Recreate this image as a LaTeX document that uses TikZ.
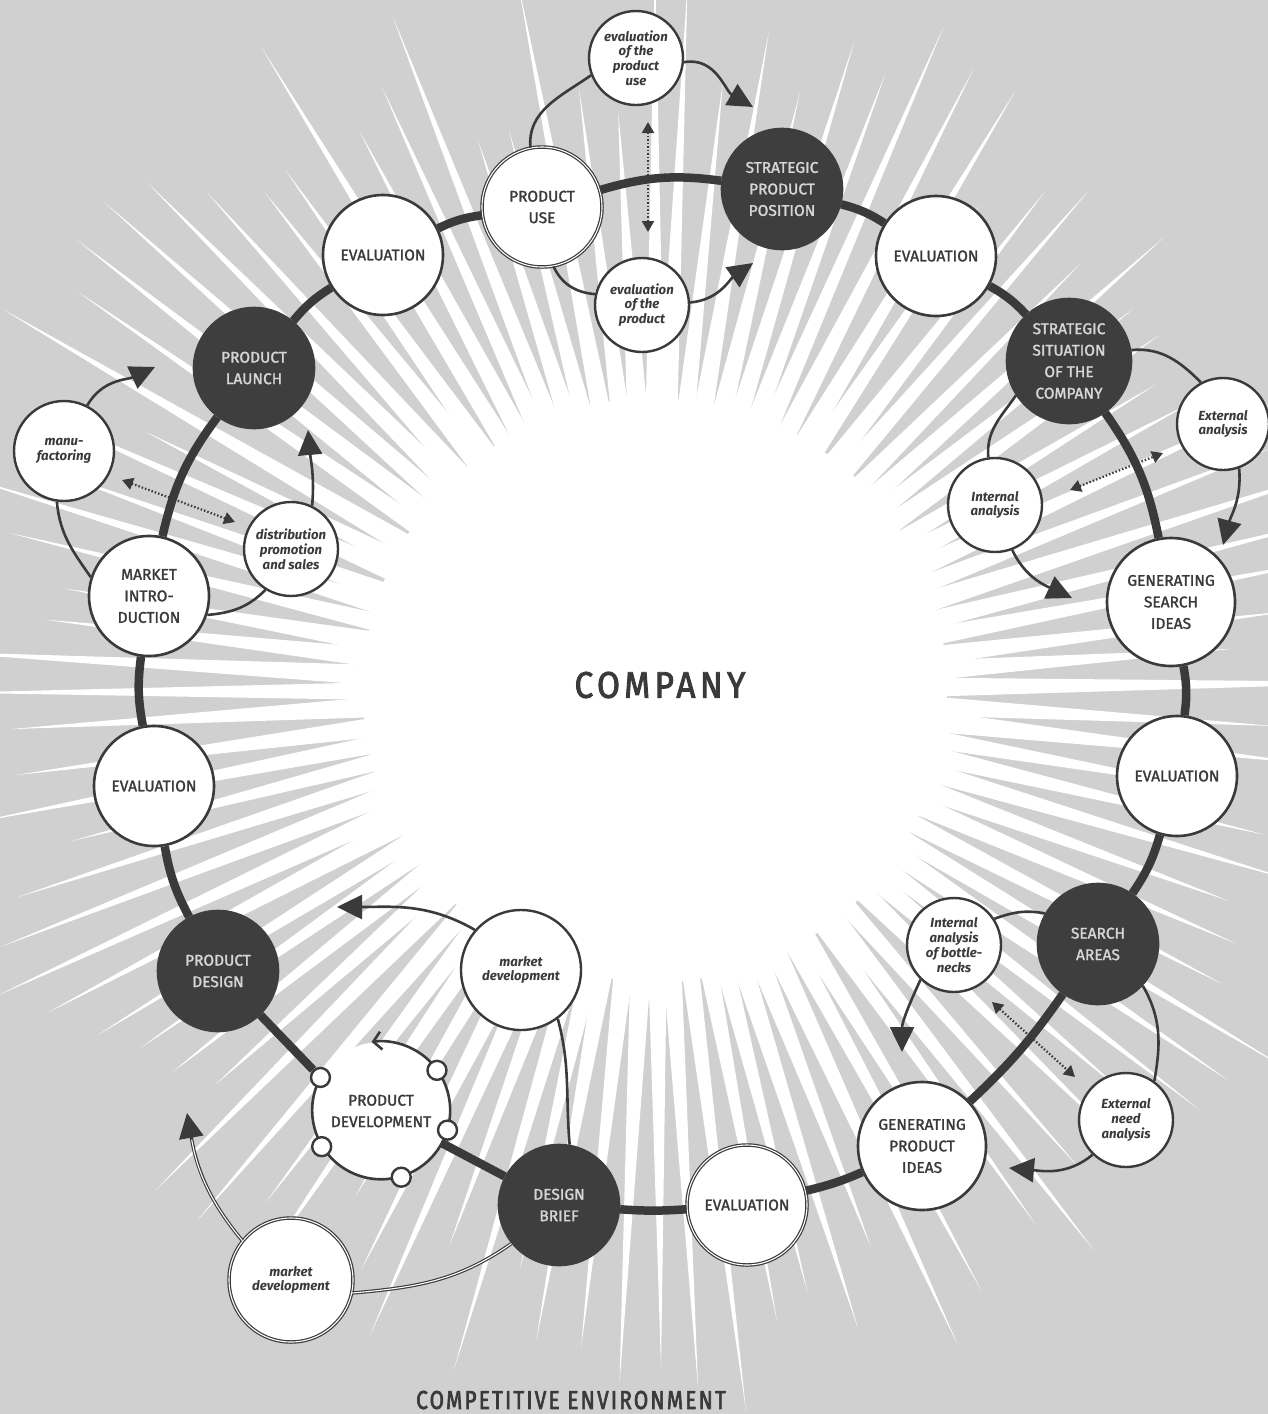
\documentclass[tikz,border=0pt]{standalone}
\usepackage{fontspec}
\setmainfont{Fira Sans}
\newfontfamily\labfont[RawFeature={embolden=1.6}]{Fira Sans}
\newfontfamily\titlefont[RawFeature={embolden=2.4}]{Fira Sans}
\usetikzlibrary{arrows.meta}
\definecolor{bg}{RGB}{208,208,208}
\definecolor{ink}{RGB}{58,58,58}
\definecolor{darknode}{RGB}{62,62,62}
\definecolor{lighttext}{RGB}{214,214,214}
\begin{document}
\begin{tikzpicture}[x=1pt,y=1pt,
  main/.style={circle, draw=ink, line width=2.6pt, fill=white, minimum size=120pt, inner sep=0pt, align=center, text=ink, font=\labfont\fontsize{15.5}{21.5}\selectfont},
  dark/.style={main, fill=darknode, draw=darknode, text=lighttext},
  dblb/.style={double=white, double distance=1.1pt, line width=1.2pt},
  small/.style={circle, draw=ink, line width=2.4pt, fill=white, minimum size=94pt, inner sep=0pt, align=center, text=ink, font=\fontsize{13.2}{14.8}\selectfont\bfseries\itshape},
  tiny/.style={circle, draw=ink, line width=2.4pt, fill=white, minimum size=19pt, inner sep=0pt},
  ring/.style={line width=8.5pt, draw=ink},
  conn/.style={line width=2.6pt, draw=ink},
  big/.style={-{Triangle[length=25pt,width=24pt]}},
  dots/.style={line width=2.2pt, draw=ink, dash pattern=on 1.5pt off 2pt, {Triangle[length=11pt,width=12pt]}-{Triangle[length=11pt,width=12pt]}},
]
% background and starburst
\fill[bg] (0,0) rectangle (1268,-1414);
\useasboundingbox (0,0) rectangle (1268,-1414);
\begin{scope}
\clip (0,0) rectangle (1268,-1414);
\pgfmathsetseed{11}
\begin{scope}[shift={(655,-690)}]
\foreach \i in {0,...,103}{
  \pgfmathsetmacro\a{\i*3.4615+0.9*rnd}
  \pgfmathsetmacro\L{570+190*rnd}
  \pgfmathsetmacro\d{1.75+0.35*rnd}
  \fill[white] (0,0) -- (\a-\d:285) -- (\a:\L) -- (\a+\d:285) -- cycle;
}
\fill[white] (0,0) circle[radius=292];
\end{scope}
\end{scope}

% main ring nodes
\node[main, dblb, draw=ink] (pu) at (542,-207) {PRODUCT\\USE};
\node[dark] (spp) at (782,-189) {STRATEGIC\\PRODUCT\\POSITION};
\node[main] (ev1) at (936,-256) {EVALUATION};
\node[dark, minimum size=124pt] (ssc) at (1069,-361) {STRATEGIC\\SITUATION\\OF THE\\COMPANY};
\node[main, minimum size=128pt] (gsi) at (1171,-602) {GENERATING\\SEARCH\\IDEAS};
\node[main] (ev2) at (1177,-776) {EVALUATION};
\node[dark] (sa) at (1098,-944) {SEARCH\\AREAS};
\node[main, minimum size=128pt] (gpi) at (922,-1146) {GENERATING\\PRODUCT\\IDEAS};
\node[main, dblb, draw=ink] (ev3) at (747,-1205) {EVALUATION};
\node[dark] (db) at (559,-1205) {DESIGN\\BRIEF};
\node[circle, fill=white, minimum size=138pt, inner sep=0pt, align=center, text=ink, font=\labfont\fontsize{15.5}{21.5}\selectfont] (pd) at (381,-1111) {PRODUCT\\DEVELOPMENT};
\node[dark] (pdes) at (218,-971) {PRODUCT\\DESIGN};
\node[main] (ev4) at (154,-786) {EVALUATION};
\node[main] (mi) at (149,-596) {MARKET\\INTRO-\\DUCTION};
\node[dark] (pl) at (254,-368) {PRODUCT\\LAUNCH};
\node[main] (ev5) at (383,-255) {EVALUATION};

% product development outline with small circles
\draw[conn, -{Straight Barb[length=8pt,width=18pt]}] (pd.151.6) arc[start angle=151.6, end angle=458, radius=69];
\node[tiny] (pds1) at (pd.151.6) {};
\node[tiny] (pds2) at (pd.36) {};
\node[tiny] (pds3) at (pd.-16.5) {};
\node[tiny] (pds4) at (pd.211.4) {};
\node[tiny] (pds5) at (pd.-73.5) {};

% ring
\foreach \u/\v/\b in {pu/spp/12, spp/ev1/9, ev1/ssc/9, ssc/gsi/12, gsi/ev2/9, ev2/sa/9, sa/gpi/6, gpi/ev3/5, ev3/db/4, db/pd/0, pdes/ev4/9, ev4/mi/9, mi/pl/12, pl/ev5/9, ev5/pu/9}
  \draw[ring] (\u) to[bend left=\b] (\v);
\draw[ring] (pdes) -- (pds1);

% small satellite nodes
\node[small] (evu) at (636,-58) {evaluation\\of the\\product\\use};
\node[small] (evp) at (642,-305) {evaluation\\of the\\product};
\node[small, minimum size=92pt] (exa) at (1223,-424) {External\\analysis};
\node[small] (ina) at (995,-505) {Internal\\analysis};
\node[small] (ibn) at (954,-945) {Internal\\analysis\\of bottle-\\necks};
\node[small] (exn) at (1126,-1120) {External\\need\\analysis};
\node[small, minimum size=100pt] (mfg) at (64,-451) {manu-\\factoring};
\node[small] (dist) at (291,-549) {distribution\\promotion\\and sales};
\node[small, minimum size=120pt] (mdc) at (521,-970) {market\\development};
\node[small, dblb, draw=ink, minimum size=124pt] (mdb) at (291,-1280) {market\\development};

% free ends
\coordinate (t1) at (753,-107);
\coordinate (t2) at (753,-263);
\coordinate (t3) at (1223,-545);
\coordinate (t4) at (1072,-598);
\coordinate (t5) at (155,-367);
\coordinate (t6) at (308,-430);
\coordinate (t7) at (902,-1052);
\coordinate (t8) at (1009,-1168);
\coordinate (t9) at (337,-907);
\coordinate (t10) at (187,-1113);
\coordinate (d1a) at (648,-122); \coordinate (d1b) at (648,-232);
\coordinate (d2a) at (1070,-490); \coordinate (d2b) at (1163,-453);
\coordinate (d3a) at (122,-480); \coordinate (d3b) at (235,-522);
\coordinate (d4a) at (992,-1002); \coordinate (d4b) at (1075,-1077);

% top cluster
\draw[conn] (pu.101) to[out=95,in=215] (evu.201);
\draw[conn, big] (evu.-5) to[out=10,in=150] (t1);
\draw[conn] (pu.-79) to[out=-65,in=175] (evp.167);
\draw[conn, big] (evp.3) to[out=5,in=215] (t2);
\draw[dots] (d1a) -- (d1b);

% right cluster
\draw[conn] (ssc.10) to[out=5,in=135] (exa.118);
\draw[conn] (ssc.213) to[out=235,in=95] (ina.98);
\draw[conn, big] (exa.-70) to[out=-85,in=75] (t3);
\draw[conn, big] (ina.-69) to[out=-65,in=155] (t4);
\draw[dots] (d2a) -- (d2b);

% left cluster
\draw[conn] (mi.162) to[out=125,in=-85] (mfg.-98);
\draw[conn, big] (mfg.63) to[out=60,in=205] (t5);
\draw[conn] (mi.-18) to[out=5,in=225] (dist.-122);
\draw[conn, big] (dist.64) to[out=85,in=-85] (t6);
\draw[dots] (d3a) -- (d3b);

% bottom right cluster
\draw[conn] (sa.150) to[out=170,in=20] (ibn.33);
\draw[conn, big] (ibn.-134) to[out=-115,in=90] (t7);
\draw[conn] (sa.-43) to[out=-60,in=80] (exn.54);
\draw[conn, big] (exn.-134) to[out=-140,in=-5] (t8);
\draw[dots] (d4a) -- (d4b);

% bottom left cluster
\draw[conn] (db.80) to[out=95,in=-75] (mdc.-53);
\draw[conn, big] (mdc.139) to[out=150,in=0] (t9);
\draw[ink, line width=3.4pt] (db.219) to[out=215,in=5] (mdb.-12);
\draw[white, line width=1.1pt] (db.219) to[out=215,in=5] (mdb.-12);
\draw[ink, line width=3.4pt, -{Triangle[length=25pt,width=24pt]}] (mdb.141) to[out=130,in=-80] (t10);
\draw[white, line width=1.1pt, shorten >=27pt] (mdb.141) to[out=130,in=-80] (t10);

% titles
\node[text=ink, font=\titlefont\fontsize{37}{40}\selectfont\addfontfeatures{FakeStretch=0.9,LetterSpace=12}] (company) at (660,-685) {COMPANY};
\node[text=ink, font=\titlefont\fontsize{26}{28}\selectfont\addfontfeatures{FakeStretch=0.8,LetterSpace=8.5}] (env) at (571,-1400) {COMPETITIVE ENVIRONMENT};
\end{tikzpicture}
\end{document}
